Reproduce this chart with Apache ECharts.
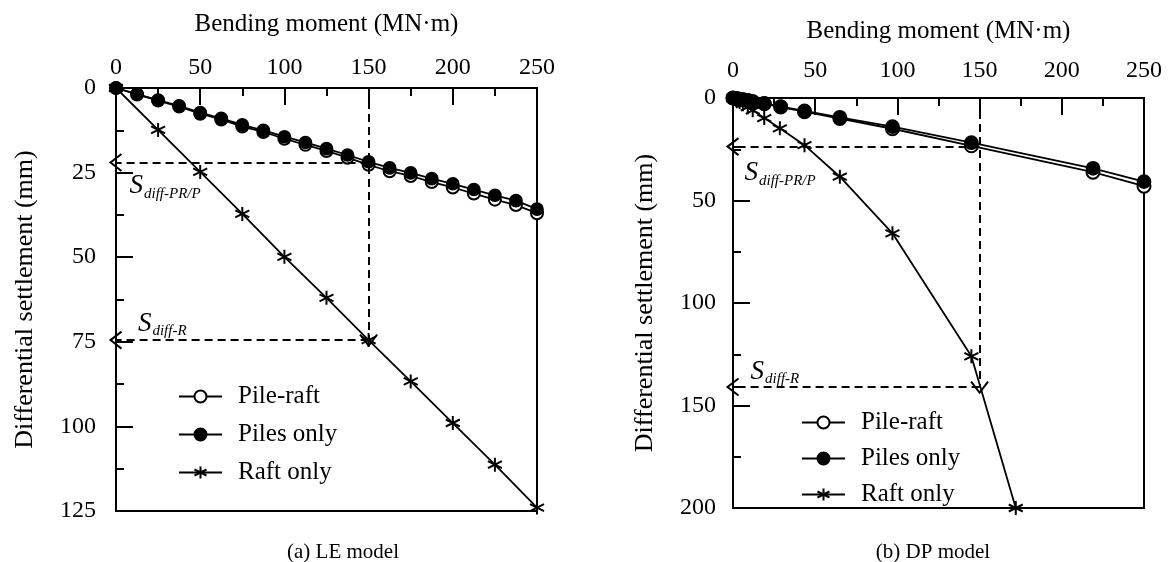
<!DOCTYPE html>
<html>
<head>
<meta charset="utf-8">
<script src="https://cdn.jsdelivr.net/npm/echarts@6/dist/echarts.min.js"></script>
<style>
html,body{margin:0;padding:0;background:#fff;}
#chart{width:1169px;height:562px;}
</style>
</head>
<body>
<div id="chart"></div>
<script>
// ---------- DATA ----------
// (a) LE model
const leMoment = [0,12.5,25,37.5,50,62.5,75,87.5,100,112.5,125,137.5,150,162.5,175,187.5,200,212.5,225,237.5,250];
const lePileRaft = [0,1.9,3.7,5.5,7.6,9.3,11.4,13,15,16.8,18.6,20.6,22.7,24.6,26,27.8,29.4,31.2,33,34.6,37];
const lePilesOnly = [0,1.8,3.6,5.3,7.3,9,10.9,12.5,14.4,16.1,17.9,19.8,21.8,23.6,25.1,26.8,28.3,30,31.7,33.3,35.8];
const leRaftMoment = [0,25,50,75,100,125,150,175,200,225,250];
const leRaftOnly = [0,12.4,24.8,37.2,49.9,62,74.5,86.7,99,111.3,124];
const leRefMoment = 150, leSdiffPRP = 22, leSdiffR = 74.5;

// (b) DP model
const dpMoment = [0,2,4,6,9,12,19,29,43.5,65,97,145,219,250];
const dpPileRaft = [0,0.3,0.6,0.9,1.3,1.8,2.8,4.4,6.7,10,15,23.3,36.2,43];
const dpPilesOnly = [0,0.3,0.5,0.8,1.2,1.7,2.6,4.2,6.3,9.4,14,21.8,34.3,40.8];
const dpRaftMoment = [0,2,4,6,9,12,19,28.5,43.5,65,97,145,172];
const dpRaftOnly = [0,1,2,3,4.5,6,9.8,14.8,23,38.4,66,126,200];
const dpRefMoment = 150, dpSdiffPRP = 23.7, dpSdiffR = 141;

const xTicks = {min:0, max:250, interval:50};
const leY = {min:0, max:125, interval:25};
const dpY = {min:0, max:200, interval:50};

const seriesNames = ['Pile-raft','Piles only','Raft only'];
const captions = ['(a) LE model','(b) DP model'];
const xName = 'Bending moment (MN·m)';
const yName = 'Differential settlement (mm)';

// ---------- HELPERS ----------
const FONT = '"Liberation Serif", "Times New Roman", serif';
const pair = (xs, ys) => xs.map((x, i) => [x, ys[i]]);
const STAR = 'emptyPath://M5 0L5 10M0.67 2.5L9.33 7.5M0.67 7.5L9.33 2.5';
const CHEV = 'emptyPath://M0 10L5 0L10 10L5 0Z';

function xAxisCfg(gi, margin, gap) {
  return {
    gridIndex: gi, type: 'value', position: 'top',
    min: xTicks.min, max: xTicks.max, interval: xTicks.interval,
    name: xName, nameLocation: 'middle', nameGap: gap,
    nameTextStyle: {fontFamily: FONT, fontSize: 25, color: '#000'},
    axisLine: {show: true, lineStyle: {color: '#000', width: 2}},
    axisTick: {show: true, inside: true, length: 17, lineStyle: {color: '#000', width: 2}},
    minorTick: {show: true, splitNumber: 2, length: 8, lineStyle: {color: '#000', width: 2}},
    splitLine: {show: false},
    axisLabel: {fontFamily: FONT, fontSize: 24, color: '#000', margin: margin}
  };
}
function yAxisCfg(gi, rng, margin, gap) {
  return {
    gridIndex: gi, type: 'value', inverse: true, position: 'left',
    min: rng.min, max: rng.max, interval: rng.interval,
    name: yName, nameLocation: 'middle', nameGap: gap,
    nameTextStyle: {fontFamily: FONT, fontSize: 26, color: '#000'},
    axisLine: {show: true, lineStyle: {color: '#000', width: 2}},
    axisTick: {show: true, inside: true, length: 17, lineStyle: {color: '#000', width: 2}},
    minorTick: {show: true, splitNumber: 2, length: 8, lineStyle: {color: '#000', width: 2}},
    splitLine: {show: false},
    axisLabel: {fontFamily: FONT, fontSize: 24, color: '#000', margin: margin}
  };
}
function lineSeries(name, gi, data, symbol, size, extra) {
  return Object.assign({
    name: name, type: 'line', xAxisIndex: gi, yAxisIndex: gi,
    data: data, symbol: symbol, symbolSize: size, showAllSymbol: true,
    lineStyle: {color: '#000', width: 1.8},
    itemStyle: {color: '#000', borderColor: '#000', borderWidth: 1.7},
    emphasis: {disabled: true}, animation: false, z: 3
  }, extra || {});
}
const sdiffLabel = (sub) => ({
  show: true, position: 'right', distance: 0,
  formatter: '{s|S}{b|' + sub + '}',
  rich: {
    s: {fontFamily: FONT, fontStyle: 'italic', fontSize: 27, color: '#000', lineHeight: 30, verticalAlign: 'middle'},
    b: {fontFamily: FONT, fontStyle: 'italic', fontSize: 15, color: '#000', lineHeight: 14, verticalAlign: 'bottom', padding: [0,0,0,1]}
  }
});
function annotations(refM, sPRP, sR, prpPos, rPos) {
  const dash = {color: '#000', width: 2, type: [8, 5]};
  const solid = {color: '#000', width: 2, type: 'solid'};
  const arrowSize = [17, 11];
  return {
    markLine: {
      silent: true, animation: false, label: {show: false}, emphasis: {disabled: true},
      data: [
        [{coord: [refM, 0], symbol: 'none', lineStyle: dash}, {coord: [refM, sR], symbol: 'none'}],
        [{coord: [refM, sPRP], symbol: 'none', lineStyle: dash}, {coord: [0, sPRP], symbol: 'none'}],
        [{coord: [refM, sR], symbol: 'none', lineStyle: dash}, {coord: [0, sR], symbol: 'none'}],
        [{coord: [refM, sR - 1.5], symbol: 'none', lineStyle: solid}, {coord: [refM, sR], symbol: CHEV, symbolSize: arrowSize}],
        [{coord: [3, sPRP], symbol: 'none', lineStyle: solid}, {coord: [0, sPRP], symbol: CHEV, symbolSize: arrowSize}],
        [{coord: [3, sR], symbol: 'none', lineStyle: solid}, {coord: [0, sR], symbol: CHEV, symbolSize: arrowSize}]
      ]
    },
    markPoint: {
      silent: true, animation: false, symbol: 'circle', symbolSize: 0,
      data: [
        {coord: prpPos, label: sdiffLabel('diff-PR/P')},
        {coord: rPos, label: sdiffLabel('diff-R')}
      ]
    }
  };
}

// ---------- CHART ----------
const chart = echarts.init(document.getElementById('chart'), null, {renderer: 'canvas'});
const legendCfg = (left, top, gap) => ({
  orient: 'vertical', left: left, top: top, itemGap: gap,
  itemWidth: 43, itemHeight: 15, data: seriesNames, selectedMode: false,
  textStyle: {fontFamily: FONT, fontSize: 25, color: '#000', padding: [0,0,0,11]}
});
chart.setOption({
  backgroundColor: '#fff',
  animation: false,
  title: [
    {text: captions[0], left: 338, top: 537, textAlign: 'center', textStyle: {fontFamily: FONT, fontSize: 21, fontWeight: 'normal', color: '#000'}},
    {text: captions[1], left: 928, top: 537, textAlign: 'center', textStyle: {fontFamily: FONT, fontSize: 21, fontWeight: 'normal', color: '#000'}}
  ],
  grid: [
    {left: 116, top: 88, width: 421, height: 423, show: true, borderColor: '#000', borderWidth: 2, backgroundColor: 'transparent'},
    {left: 733, top: 98, width: 411, height: 410, show: true, borderColor: '#000', borderWidth: 2, backgroundColor: 'transparent'}
  ],
  legend: [legendCfg(173, 379, 13), legendCfg(796, 405, 11)],
  xAxis: [xAxisCfg(0, 8, 51), xAxisCfg(1, 15, 54)],
  yAxis: [yAxisCfg(0, leY, 20, 78), yAxisCfg(1, dpY, 17, 75)],
  series: [
    lineSeries(seriesNames[0], 0, pair(leMoment, lePileRaft), 'emptyCircle', 12),
    lineSeries(seriesNames[1], 0, pair(leMoment, lePilesOnly), 'circle', 12),
    lineSeries(seriesNames[2], 0, pair(leRaftMoment, leRaftOnly), STAR, 14,
      annotations(leRefMoment, leSdiffPRP, leSdiffR, [8, 29], [13, 69.7])),
    lineSeries(seriesNames[0], 1, pair(dpMoment, dpPileRaft), 'emptyCircle', 13),
    lineSeries(seriesNames[1], 1, pair(dpMoment, dpPilesOnly), 'circle', 13),
    lineSeries(seriesNames[2], 1, pair(dpRaftMoment, dpRaftOnly), STAR, 14,
      annotations(dpRefMoment, dpSdiffPRP, dpSdiffR, [7, 36.7], [10.7, 133.6]))
  ]
});
</script>
</body>
</html>
